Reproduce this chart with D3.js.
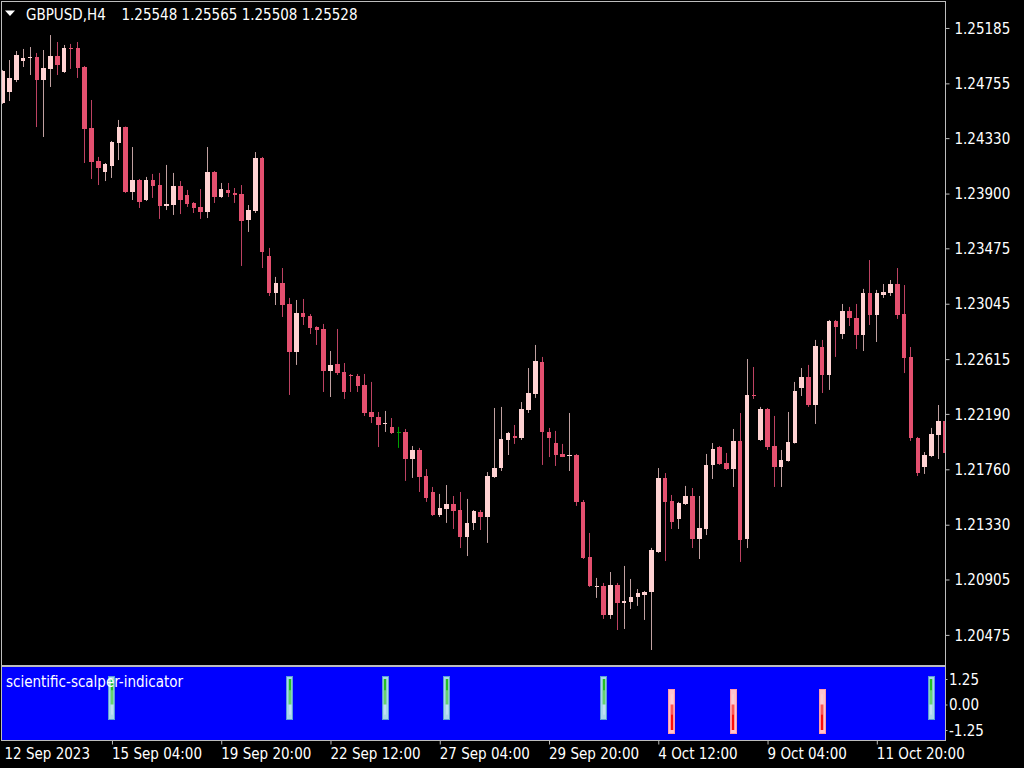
<!DOCTYPE html>
<html><head><meta charset="utf-8">
<script src="https://cdnjs.cloudflare.com/ajax/libs/d3/7.8.5/d3.min.js"></script>
<style>
html,body{margin:0;padding:0;background:#000;overflow:hidden}
svg{display:block}
text{font-family:"DejaVu Sans Condensed","DejaVu Sans",sans-serif;font-stretch:condensed;font-size:15px;fill:#fff}
</style></head><body>
<svg id="c" width="1024" height="768"></svg>
<script>
// ---------- data ----------
const symbolTitle = "GBPUSD,H4";
const lastQuote = ["1.25548", "1.25565", "1.25508", "1.25528"];

const opens = [1.24603,1.24688,1.24781,1.24928,1.24959,1.24959,1.24781,1.24867,1.24967,1.24843,
1.25030,1.25030,1.24882,1.24408,1.24153,1.24067,1.24114,1.24292,1.24416,1.23912,
1.24005,1.23850,1.24005,1.23966,1.23803,1.23811,1.23959,1.23889,1.23827,1.23796,
1.23757,1.24067,1.23873,1.23928,1.23904,1.23897,1.23695,1.23765,1.24176,1.23415,
1.23128,1.23206,1.23043,1.22670,1.22973,1.22950,1.22865,1.22849,1.22523,1.22577,
1.22515,1.22492,1.22484,1.22414,1.22205,1.22166,1.22112,1.22089,1.22050,1.22050,
1.21840,1.21910,1.21708,1.21584,1.21406,1.21452,1.21491,1.21444,1.21235,1.21344,
1.21429,1.21390,1.21700,1.21770,1.21988,1.22019,1.22003,1.22220,1.22345,1.22593,
1.22050,1.21964,1.21879,1.21863,1.21871,1.21507,1.21079,1.20847,1.20855,1.20630,
1.20862,1.20723,1.20730,1.20769,1.20785,1.20808,1.21118,1.21693,1.21515,1.21375,
1.21491,1.21553,1.21220,1.21297,1.21794,1.21933,1.21809,1.21762,1.21980,1.21220,
1.22337,1.21988,1.22228,1.21941,1.21778,1.21825,1.21964,1.22391,1.22476,1.22259,
1.22709,1.22492,1.22911,1.22810,1.22989,1.22934,1.22802,1.23128,1.22958,1.23113,
1.23128,1.23198,1.22965,1.22632,1.22003,1.21778,1.21863,1.22027,1.22135];

const highs = [1.24859,1.24936,1.25006,1.25022,1.25037,1.24991,1.25014,1.25130,1.25076,1.25053,
1.25061,1.25076,1.24890,1.24626,1.24184,1.24137,1.24308,1.24471,1.24420,1.24261,
1.24013,1.24029,1.24052,1.24060,1.24122,1.24060,1.23997,1.23928,1.23834,1.23935,
1.24261,1.24075,1.23982,1.23982,1.23943,1.23966,1.23811,1.24222,1.24184,1.23478,
1.23253,1.23322,1.23090,1.23074,1.23082,1.22965,1.22870,1.22888,1.22678,1.22849,
1.22585,1.22500,1.22500,1.22500,1.22438,1.22205,1.22213,1.22158,1.22089,1.22073,
1.21941,1.21926,1.21762,1.21623,1.21569,1.21638,1.21553,1.21584,1.21530,1.21444,
1.21444,1.21739,1.22236,1.22244,1.22050,1.22104,1.22282,1.22546,1.22725,1.22632,
1.22081,1.22058,1.21957,1.22197,1.21879,1.21522,1.21266,1.20917,1.20878,1.20963,
1.20878,1.21010,1.20909,1.20831,1.20816,1.21150,1.21770,1.21731,1.21561,1.21507,
1.21631,1.21615,1.21553,1.21879,1.21964,1.21941,1.21887,1.22073,1.22197,1.22616,
1.22554,1.22244,1.22236,1.22174,1.21910,1.22205,1.22438,1.22546,1.22570,1.22764,
1.22764,1.22919,1.22919,1.23043,1.23020,1.23043,1.23160,1.23384,1.23152,1.23198,
1.23229,1.23322,1.23190,1.22709,1.22011,1.21894,1.22081,1.22259,1.22143];

const lows = [1.24595,1.24618,1.24765,1.24882,1.24820,1.24416,1.24339,1.24727,1.24820,1.24836,
1.24867,1.24797,1.24137,1.24013,1.23966,1.23997,1.24021,1.24160,1.23904,1.23850,
1.23788,1.23842,1.23866,1.23703,1.23772,1.23734,1.23741,1.23796,1.23749,1.23703,
1.23710,1.23827,1.23866,1.23873,1.23827,1.23338,1.23602,1.23749,1.23322,1.23105,
1.23035,1.22942,1.22337,1.22570,1.22880,1.22810,1.22725,1.22360,1.22321,1.22492,
1.22306,1.22360,1.22360,1.22174,1.22119,1.21933,1.22050,1.22034,1.21926,1.21670,
1.21693,1.21584,1.21507,1.21398,1.21390,1.21344,1.21297,1.21149,1.21087,1.21289,
1.21289,1.21189,1.21693,1.21747,1.21871,1.21957,1.21988,1.22197,1.22314,1.21794,
1.21855,1.21786,1.21855,1.21747,1.21476,1.21064,1.20847,1.20762,1.20599,1.20599,
1.20513,1.20521,1.20676,1.20700,1.20591,1.20358,1.21111,1.21048,1.21297,1.21297,
1.21483,1.21149,1.21064,1.21250,1.21685,1.21794,1.21755,1.21623,1.21041,1.21149,
1.22306,1.21980,1.21910,1.21623,1.21623,1.21820,1.21960,1.22329,1.22244,1.22112,
1.22352,1.22376,1.22632,1.22771,1.22872,1.22693,1.22678,1.22880,1.22748,1.23090,
1.23105,1.22927,1.22507,1.21980,1.21708,1.21724,1.21855,1.21840,1.21600];

const closes = [1.24851,1.24797,1.24975,1.24951,1.24962,1.24781,1.24874,1.24967,1.24898,1.25030,
1.25018,1.24874,1.24401,1.24145,1.24098,1.24129,1.24300,1.24416,1.23912,1.24005,
1.23834,1.24005,1.23959,1.23803,1.23819,1.23959,1.23850,1.23819,1.23788,1.23757,
1.24067,1.23873,1.23935,1.23904,1.23889,1.23687,1.23772,1.24176,1.23446,1.23128,
1.23206,1.23035,1.22670,1.22973,1.22942,1.22857,1.22841,1.22523,1.22570,1.22507,
1.22360,1.22481,1.22407,1.22197,1.22166,1.22104,1.22119,1.22042,1.22050,1.21840,
1.21910,1.21700,1.21537,1.21406,1.21460,1.21491,1.21437,1.21235,1.21344,1.21437,
1.21390,1.21708,1.21770,1.21996,1.22042,1.22003,1.22228,1.22352,1.22601,1.22050,
1.22003,1.21871,1.21855,1.21871,1.21507,1.21072,1.20855,1.20855,1.20630,1.20862,
1.20723,1.20738,1.20769,1.20800,1.20808,1.21134,1.21693,1.21507,1.21352,1.21499,
1.21553,1.21220,1.21305,1.21794,1.21918,1.21801,1.21762,1.21980,1.21212,1.22337,
1.22326,1.22228,1.21933,1.21778,1.21832,1.21972,1.22368,1.22476,1.22259,1.22717,
1.22492,1.22911,1.22865,1.22989,1.22934,1.22802,1.23128,1.22958,1.23128,1.23136,
1.23198,1.22958,1.22624,1.22003,1.21731,1.21871,1.22034,1.22135,1.21887];

const priceTicks = [1.25185,1.24755,1.24330,1.23900,1.23475,1.23045,1.22615,1.22190,1.21760,1.21330,1.20905,1.20475];
const timeTickBars = [0,16,32,48,64,80,96,112,128];
const timeTickLabels = ["12 Sep 2023","15 Sep 04:00","19 Sep 20:00","22 Sep 12:00","27 Sep 04:00","29 Sep 20:00","4 Oct 12:00","9 Oct 04:00","11 Oct 20:00"];

const indicatorName = "scientific-scalper-indicator";
const indicatorTicks = [1.25, 0, -1.25];
const indicatorTickLabels = ["1.25", "0.00", "-1.25"];
const buySignalBars = [16, 42, 56, 65, 88, 136];
const sellSignalBars = [98, 107, 120];
const buyBand = [-0.73, 1.40];
const buySignal = [0, 1.25];
const buyMark = [-0.5, 0.7];
const sellBand = [-1.38, 0.75];
const sellSignal = [-1.25, 0];
const sellMark = [-0.5, 0.5];

// ---------- drawing ----------
const svg = d3.select("#c");
const W = 1024, H = 768;
const mainL = 1.5, mainR = 945.5, mainT = 1.5, mainB = 665.5;
const indT = 666.5, indB = 740.5;

const x = d3.scaleLinear().domain([0, opens.length - 1]).range([2.7, 945.1]);
const y = d3.scaleLinear().domain([1.20475, 1.25185]).range([634.9, 27.96]);
const yi = d3.scaleLinear().domain([-1.25, 1.25]).range([730, 679]);

svg.append("rect").attr("width", W).attr("height", H).attr("fill", "#000");

svg.append("defs").append("clipPath").attr("id", "mainClip")
  .append("rect").attr("x", 2).attr("y", 2).attr("width", 943).attr("height", 663);

const bars = d3.range(opens.length).map(i => ({i, o: opens[i], h: highs[i], l: lows[i], c: closes[i]}));
const colBull = "#ffd2d2", colBear = "#e4506f", colDoji = "#00a000";
const wickBull = "#c0a0a0", wickBear = "#bd4262";

const cg = svg.append("g").attr("clip-path", "url(#mainClip)");
const cand = cg.selectAll("g.cd").data(bars).join("g").attr("class", "cd");
cand.append("line")
  .attr("x1", d => Math.floor(x(d.i)) + 0.5).attr("x2", d => Math.floor(x(d.i)) + 0.5)
  .attr("y1", d => y(d.h)).attr("y2", d => y(d.l))
  .attr("stroke", d => d.o === d.c ? colDoji : (d.c > d.o ? wickBull : wickBear))
  .attr("stroke-width", 1);
cand.append("rect")
  .attr("x", d => Math.round(x(d.i) - 2.25))
  .attr("width", d => Math.round(x(d.i) + 2.25) - Math.round(x(d.i) - 2.25))
  .attr("y", d => Math.round(y(Math.max(d.o, d.c))))
  .attr("height", d => Math.max(1, Math.round(y(Math.min(d.o, d.c))) - Math.round(y(Math.max(d.o, d.c)))))
  .attr("fill", d => d.o === d.c ? colDoji : (d.c > d.o ? colBull : colBear));

// frame main
svg.append("rect").attr("x", mainL).attr("y", mainT).attr("width", mainR - mainL).attr("height", mainB - mainT)
  .attr("fill", "none").attr("stroke", "#bdbdbd").attr("stroke-width", 1);

// price axis
const pa = svg.append("g").attr("transform", `translate(${mainR},0)`)
  .call(d3.axisRight(y).tickValues(priceTicks).tickSize(4).tickPadding(5).tickFormat(d => d.toFixed(5)));
pa.select(".domain").remove();
pa.selectAll("line").attr("stroke", "#bdbdbd");
pa.selectAll("text").attr("fill", "#fff").attr("font-size", 15).attr("font-family", null).attr("dy", "0.35em");

// header
svg.append("path").attr("d", "M5,10.5 L15,10.5 L10,16 Z").attr("fill", "#fff");
svg.append("text").attr("x", 26).attr("y", 20).text(symbolTitle);
svg.append("text").attr("x", 121.5).attr("y", 20).text(lastQuote.join(" "));

// indicator window
svg.append("rect").attr("x", mainL).attr("y", indT).attr("width", mainR - mainL).attr("height", indB - indT)
  .attr("fill", "#0000ff").attr("stroke", "#bdbdbd").attr("stroke-width", 1);

const ig = svg.append("g");
function drawSignals(idx, band, sig, mark, boxFill, boxStroke, sigCol, markCol) {
  const g = ig.selectAll(null).data(idx).join("g");
  g.append("rect")
    .attr("x", d => Math.round(x(d) - 3.5) + 0.5).attr("width", 6)
    .attr("y", Math.round(yi(band[1])) + 0.5).attr("height", Math.round(yi(band[0])) - Math.round(yi(band[1])))
    .attr("fill", boxFill).attr("stroke", boxStroke).attr("stroke-width", 1);
  g.append("line")
    .attr("x1", d => Math.round(x(d))).attr("x2", d => Math.round(x(d)))
    .attr("y1", yi(sig[1])).attr("y2", yi(sig[0]))
    .attr("stroke", sigCol).attr("stroke-width", 2.5);
  g.append("line")
    .attr("x1", d => Math.round(x(d))).attr("x2", d => Math.round(x(d)))
    .attr("y1", yi(mark[1])).attr("y2", yi(mark[0]))
    .attr("stroke", markCol).attr("stroke-width", 1).attr("opacity", 0.7);
}
drawSignals(buySignalBars, buyBand, buySignal, buyMark, "#a9d6ec", "#5d9fd6", "#22c022", "#e8f6ff");
drawSignals(sellSignalBars, sellBand, sellSignal, sellMark, "#ffc4cc", "#ff9cac", "#ff0a0a", "#ffe0e4");

svg.append("text").attr("x", 6).attr("y", 687).text(indicatorName);

const ia = svg.append("g").attr("transform", `translate(${mainR},0)`)
  .call(d3.axisRight(yi).tickValues(indicatorTicks).tickSize(2).tickPadding(1.5).tickFormat((d, k) => indicatorTickLabels[k]));
ia.select(".domain").remove();
ia.selectAll("line").attr("stroke", "#bdbdbd");
ia.selectAll("text").attr("fill", "#fff").attr("font-size", 15).attr("font-family", null).attr("dy", "0.35em");

// time axis
const ta = svg.append("g").attr("transform", `translate(0,${indB})`)
  .call(d3.axisBottom(x).tickValues(timeTickBars).tickSize(4).tickFormat((d, k) => timeTickLabels[k]));
ta.select(".domain").remove();
ta.selectAll("line").attr("stroke", "#bdbdbd").attr("opacity", (d, k) => k === 0 ? 0 : 1);
ta.selectAll("text").attr("fill", "#fff").attr("font-size", 15).attr("font-family", null)
  .attr("text-anchor", "start").attr("y", 18.5).attr("dy", 0)
  .attr("x", (d, k) => k === 0 ? 4 - x(0) : -0.5);
</script>
</body></html>
